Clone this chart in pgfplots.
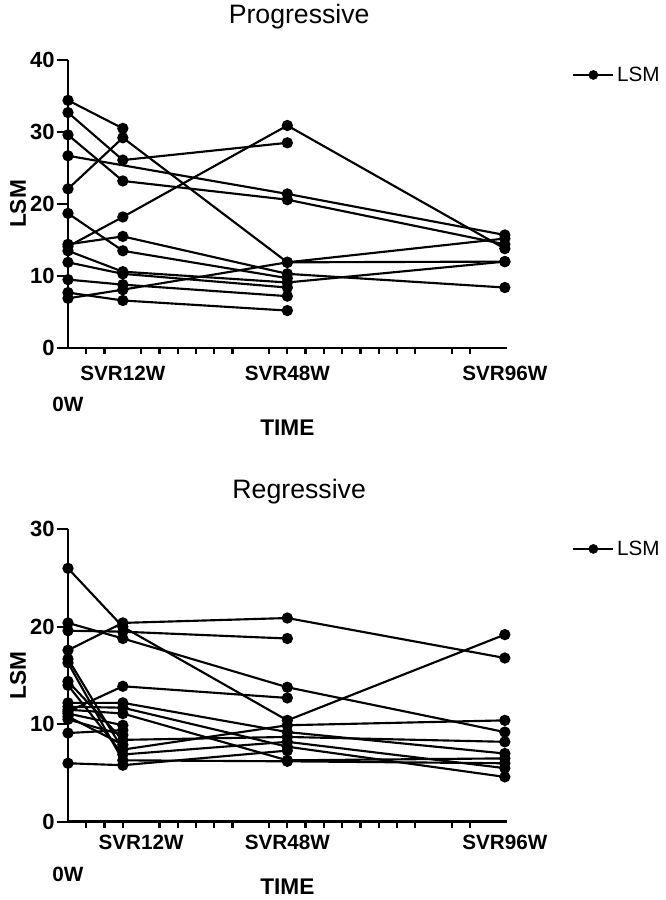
\documentclass[border=0pt]{standalone}
\usepackage{pgfplots}
\pgfplotsset{compat=1.18}
\usepackage{fontspec}
\setmainfont{Liberation Sans}
\begin{document}
\begin{tikzpicture}
\useasboundingbox (-51pt,-414pt) rectangle (448.5pt,261pt);
\pgfplotsset{
  pstyle/.style={black, line width=1.6pt, mark=*, mark size=3.4pt, mark options={solid}, forget plot},
  base/.style={
    scale only axis, width=329pt,
    xmin=0, xmax=24, ymin=0, clip=false,
    axis x line=bottom, axis y line=left,
    axis line style={-, line width=2pt, black},
    tick align=outside,
    major tick length=8.5pt, minor tick length=4.5pt,
    every tick/.append style={line width=1.7pt, black},
    every major x tick/.append style={draw=none},
    /pgf/number format/assume math mode=true,
    xticklabel style={font=\fontsize{15.5}{17}\selectfont\bfseries},
    yticklabel style={font=\fontsize{16.5}{18}\selectfont\bfseries, xshift=2pt},
    label style={font=\fontsize{17}{20}\selectfont\bfseries, inner sep=0pt},
    xlabel={TIME}, ylabel={LSM},
    ylabel style={at={(axis description cs:0,0.5)}, anchor=center, yshift=37.5pt},
    title style={font=\fontsize{20}{24}\selectfont, anchor=center},
    legend style={draw=none, fill=none, inner sep=0pt, anchor=west, font=\fontsize{15.5}{18}\selectfont},
    legend cell align=left,
    legend image code/.code={\draw[black,line width=1.6pt] (0pt,0pt) -- (30pt,0pt); \fill[black] (15pt,0pt) circle (3.4pt);},
  }
}
% ---------------- Progressive ----------------
\begin{axis}[base, height=216pt, ymax=40, ytick={0,10,20,30,40},
  xtick={3,12,23.9}, xticklabels={SVR12W,SVR48W,SVR96W},
  minor xtick={1,2,4,5,6,7,8,9,11,12,13,14,15,16,17,18,19,21,22},
  title={Progressive}, title style={at={(axis description cs:0.527,1)}, yshift=26.5pt},
  xticklabel style={yshift=-1.8pt},
  xlabel style={at={(axis description cs:0.5,0)}, anchor=north, yshift=-54pt},
  legend style={at={(axis description cs:1.149,0.948)}},
]
\addplot[pstyle] coordinates {(0,34.4) (3,30.5)};
\addplot[pstyle] coordinates {(0,32.7) (3,26.1) (12,28.5)};
\addplot[pstyle] coordinates {(0,29.6) (3,23.2) (12,20.6) (23.9,14.4)};
\addplot[pstyle] coordinates {(0,26.7) (12,21.4) (23.9,15.7)};
\addplot[pstyle] coordinates {(0,22.1) (3,29.2) (12,11.9) (23.9,12.0)};
\addplot[pstyle] coordinates {(0,18.7) (3,13.5) (12,9.7)};
\addplot[pstyle] coordinates {(0,14.4) (3,15.5) (12,10.3) (23.9,8.4)};
\addplot[pstyle] coordinates {(0,14.1) (3,18.2) (12,30.9) (23.9,13.8)};
\addplot[pstyle] coordinates {(0,13.5) (3,10.6) (12,9.1) (23.9,12.0)};
\addplot[pstyle] coordinates {(0,11.9) (3,10.3) (12,8.4)};
\addplot[pstyle] coordinates {(0,9.5) (3,8.8) (12,7.2)};
\addplot[pstyle] coordinates {(0,7.7) (3,6.6) (12,5.2)};
\addplot[pstyle] coordinates {(0,6.9) (3,8.1) (12,11.9) (23.9,15.2)};
\addlegendimage{black}
\addlegendentry{LSM}
\node[anchor=north, inner sep=0pt, font=\fontsize{15.5}{17}\selectfont\bfseries] at (axis cs:0,0) [yshift=-36.75pt] {0W};
\end{axis}
% ---------------- Regressive ----------------
\begin{axis}[base, at={(0,-355.3pt)}, anchor=south west, height=219.3pt, ymax=30, ytick={0,10,20,30},
  xtick={4,12,23.9}, xticklabels={SVR12W,SVR48W,SVR96W},
  minor xtick={1,2,3,5,6,7,8,9,11,12,13,14,15,16,17,18,19,21,22},
  title={Regressive}, title style={at={(axis description cs:0.527,1)}, yshift=22pt},
  xticklabel style={yshift=2pt},
  xlabel style={at={(axis description cs:0.5,0)}, anchor=north, yshift=-43pt},
  legend style={at={(axis description cs:1.149,0.933)}},
]
\addplot[pstyle] coordinates {(0,26.0) (3,20.0) (12,10.4) (23.9,19.2)};
\addplot[pstyle] coordinates {(0,20.4) (3,18.8) (12,13.8) (23.9,9.2)};
\addplot[pstyle] coordinates {(0,19.6) (3,19.5) (12,18.8)};
\addplot[pstyle] coordinates {(0,17.6) (3,20.4) (12,20.9) (23.9,16.8)};
\addplot[pstyle] coordinates {(0,11.3) (3,13.9) (12,12.7)};
\addplot[pstyle] coordinates {(0,16.7) (3,7.4) (12,9.9) (23.9,10.4)};
\addplot[pstyle] coordinates {(0,16.3) (3,6.3) (12,6.2) (23.9,6.0)};
\addplot[pstyle] coordinates {(0,14.4) (3,8.4) (12,8.7) (23.9,8.2)};
\addplot[pstyle] coordinates {(0,14.0) (3,6.9) (12,8.2) (23.9,5.5)};
\addplot[pstyle] coordinates {(0,12.2) (3,12.2) (12,9.2) (23.9,7.0)};
\addplot[pstyle] coordinates {(0,11.8) (3,11.7) (12,7.7) (23.9,4.6)};
\addplot[pstyle] coordinates {(0,11.5) (3,11.1) (12,6.3) (23.9,6.5)};
\addplot[pstyle] coordinates {(0,11.1) (3,9.9)};
\addplot[pstyle] coordinates {(0,10.8) (3,7.9)};
\addplot[pstyle] coordinates {(0,10.5) (3,8.9)};
\addplot[pstyle] coordinates {(0,9.1) (3,9.4)};
\addplot[pstyle] coordinates {(0,6.0) (3,5.8) (12,7.3)};
\addlegendimage{black}
\addlegendentry{LSM}
\node[anchor=north, inner sep=0pt, font=\fontsize{15.5}{17}\selectfont\bfseries] at (axis cs:0,0) [yshift=-33.75pt] {0W};
\end{axis}
\end{tikzpicture}
\end{document}
